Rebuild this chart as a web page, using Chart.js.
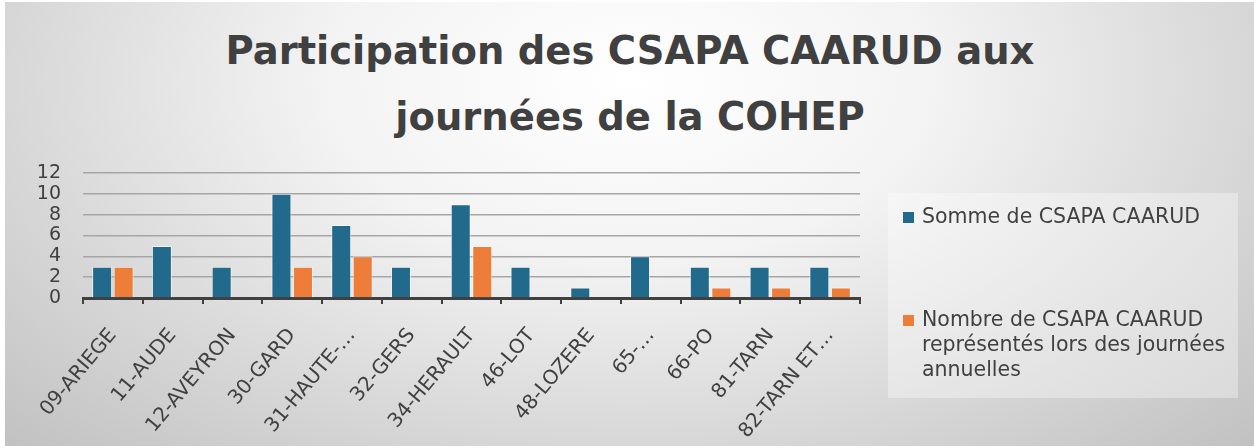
<!DOCTYPE html>
<html lang="fr">
<head>
<meta charset="utf-8">
<title>Participation des CSAPA CAARUD aux journées de la COHEP</title>
<script src="https://cdn.jsdelivr.net/npm/chart.js@4.4.1/dist/chart.umd.min.js"></script>
<style>
  html, body { margin: 0; padding: 0; background: #ffffff; }
  #page { position: relative; width: 1254px; height: 448px; overflow: hidden; font-family: "DejaVu Sans", sans-serif; color: #404040; }
  #bg { position: absolute; left: 5px; top: 2px; width: 1249px; height: 444px;
        background: radial-gradient(ellipse 70% 115% at 50% 18%, #ffffff 0%, #f3f3f3 35%, #d8d8d8 70%, #c2c2c2 100%); }
  #title { position: absolute; left: 0; top: 18px; width: 1260px; text-align: center;
           font-weight: bold; font-size: 38.5px; line-height: 66px; color: #404040; }
  #chart { position: absolute; left: 0; top: 0; }
  #legend { position: absolute; left: 888px; top: 193px; width: 350px; height: 205px;
            background: rgba(255, 255, 255, 0.35); }
  .item { position: absolute; left: 15px; width: 320px; font-size: 20.5px; line-height: 25px; }
  .item .box { position: absolute; left: 0; top: 8px; width: 11px; height: 11px; }
  .item .txt { position: absolute; left: 19px; top: 0; width: 312px; }
</style>
</head>
<body>
<div id="page">
  <div id="bg"></div>
  <div id="title"></div>
  <canvas id="chart" width="1254" height="448"></canvas>
  <div id="legend"></div>
</div>
<script>
const titleLines = ["Participation des CSAPA CAARUD aux", "journées de la COHEP"];
const categories = ["09-ARIEGE", "11-AUDE", "12-AVEYRON", "30-GARD", "31-HAUTE-…", "32-GERS", "34-HERAULT",
  "46-LOT", "48-LOZERE", "65-…", "66-PO", "81-TARN", "82-TARN ET…"];
const seriesNames = ["Somme de CSAPA CAARUD", "Nombre de CSAPA CAARUD représentés lors des journées annuelles"];
const sommeCsapa = [3, 5, 3, 10, 7, 3, 9, 3, 1, 4, 3, 3, 3];
const nombreRepresentes = [3, null, null, 3, 4, null, 5, null, null, null, 1, 1, 1];
const yTicks = [0, 2, 4, 6, 8, 10, 12];
const colors = ["#226a8c", "#ee7d3a"];

document.getElementById("title").innerHTML = titleLines.join("<br>");

const ctx = document.getElementById("chart").getContext("2d");
const chart = new Chart(ctx, {
  type: "bar",
  data: {
    labels: categories,
    datasets: [
      { label: seriesNames[0], data: sommeCsapa, backgroundColor: colors[0] },
      { label: seriesNames[1], data: nombreRepresentes, backgroundColor: colors[1] }
    ].map(d => Object.assign(d, {
      borderColor: "rgba(255,255,255,0.6)",
      borderWidth: 1,
      categoryPercentage: 0.72,
      barPercentage: 0.93
    }))
  },
  options: {
    responsive: false,
    animation: false,
    layout: { padding: { left: 30, right: 394, top: 173, bottom: 0 } },
    plugins: {
      legend: { display: false },
      title: { display: false },
      tooltip: { enabled: false }
    },
    scales: {
      x: {
        afterFit: s => { s.height = 150; },
        border: { color: "#404040", width: 3 },
        grid: { drawOnChartArea: false, drawTicks: true, tickLength: 6, color: "#404040", lineWidth: 2 },
        ticks: {
          autoSkip: false, minRotation: 50, maxRotation: 50, padding: 20,
          color: "#404040", font: { family: "DejaVu Sans", size: 20 }
        }
      },
      y: {
        min: 0,
        max: yTicks[yTicks.length - 1],
        afterFit: s => { s.width = 53; },
        afterBuildTicks: s => { s.ticks = yTicks.map(v => ({ value: v })); },
        border: { display: false },
        grid: { color: "#a6a6a6", lineWidth: 1.5, drawTicks: false },
        ticks: { autoSkip: false, stepSize: 2, padding: 22, color: "#404040", font: { family: "DejaVu Sans", size: 19 } }
      }
    }
  }
});

// légende à droite, construite à partir des séries
const legend = document.getElementById("legend");
const itemTops = [11, 114];
chart.data.datasets.forEach((ds, i) => {
  legend.insertAdjacentHTML("beforeend",
    `<div class="item" style="top:${itemTops[i]}px"><span class="box" style="background:${ds.backgroundColor}"></span><div class="txt">${ds.label}</div></div>`);
});
</script>
</body>
</html>
